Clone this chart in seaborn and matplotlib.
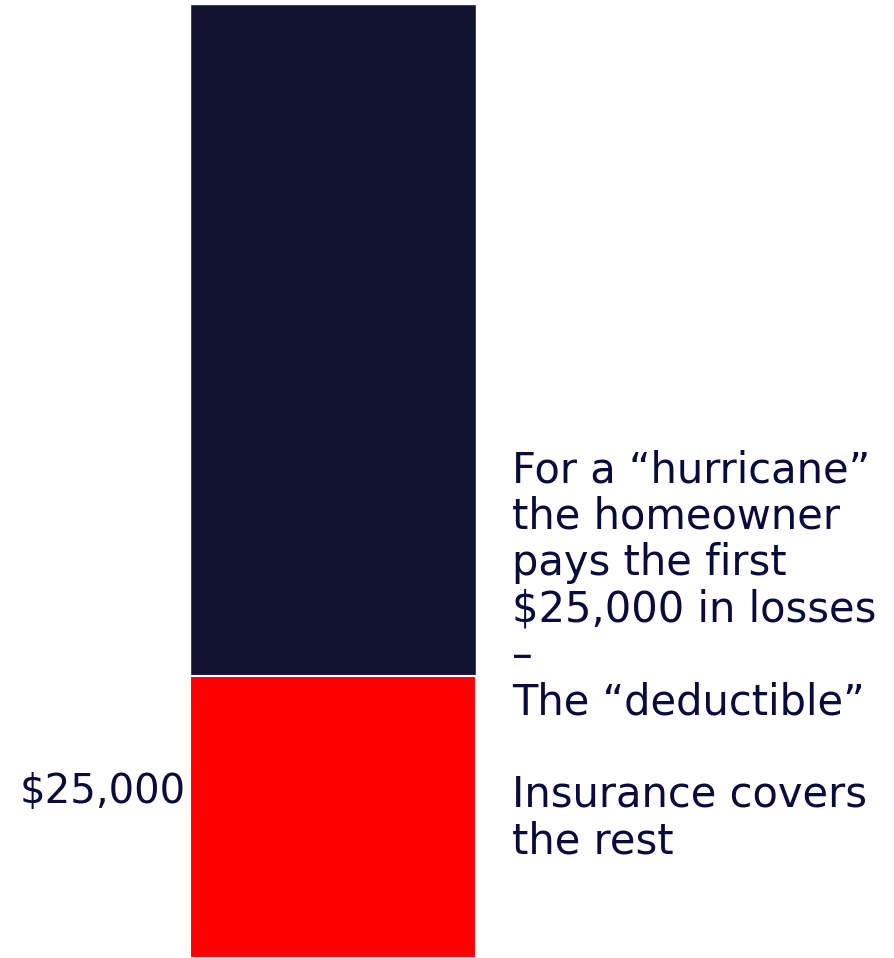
"""Hurricane deductible: one stacked bar showing what the homeowner pays vs. what insurance covers."""
import pandas as pd
import seaborn as sns
import matplotlib.pyplot as plt

# Step 1: the numbers behind the bar
segments = ["Deductible", "Insurance pays"]
amounts = [25000, 59600]
loss_label = ["Hurricane loss"]
deductible_label = "$25,000"

note_lines = [
    "For a \u201churricane\u201d",
    "the homeowner",
    "pays the first",
    "$25,000 in losses",
    "\u2013",
    "The \u201cdeductible\u201d",
    "",
    "Insurance covers",
    "the rest",
]

navy = "#121331"
red = "#ff0000"
ink = "#0a0a3c"

df = pd.DataFrame({"loss": loss_label * 2, "segment": segments, "amount": amounts})
total = df["amount"].sum()

# Step 2: figure and an axes that holds only the bar
sns.set_style("white")
plt.rcParams["font.family"] = ["DejaVu Sans"]
fig = plt.figure(figsize=(8.95, 9.58), dpi=100)
ax = fig.add_axes([190 / 895, 0, 286 / 895, 954 / 958])

# full loss in navy, deductible painted over the bottom in red
sns.barplot(x=loss_label, y=[total], color=navy, saturation=1, width=1, ax=ax, zorder=1)
sns.barplot(x=loss_label, y=[df.loc[df["segment"] == "Deductible", "amount"].iloc[0]],
            color=red, saturation=1, width=1, ax=ax, edgecolor="white", linewidth=1.5, zorder=2)
ax.set_xlim(-0.5, 0.5)
ax.set_ylim(0, total)
ax.axis("off")

# Step 3: text around the bar (multi-line baseline = last line)
fig.text(186 / 895, 1 - 803 / 958, deductible_label, ha="right", va="baseline",
         fontsize=29, color=ink)
fig.text(512 / 895, 1 - 853 / 958, "\n".join(note_lines), ha="left", va="baseline",
         fontsize=30, color=ink, linespacing=1.13)

# Step 4: save
fig.savefig("out.png", dpi=100)
